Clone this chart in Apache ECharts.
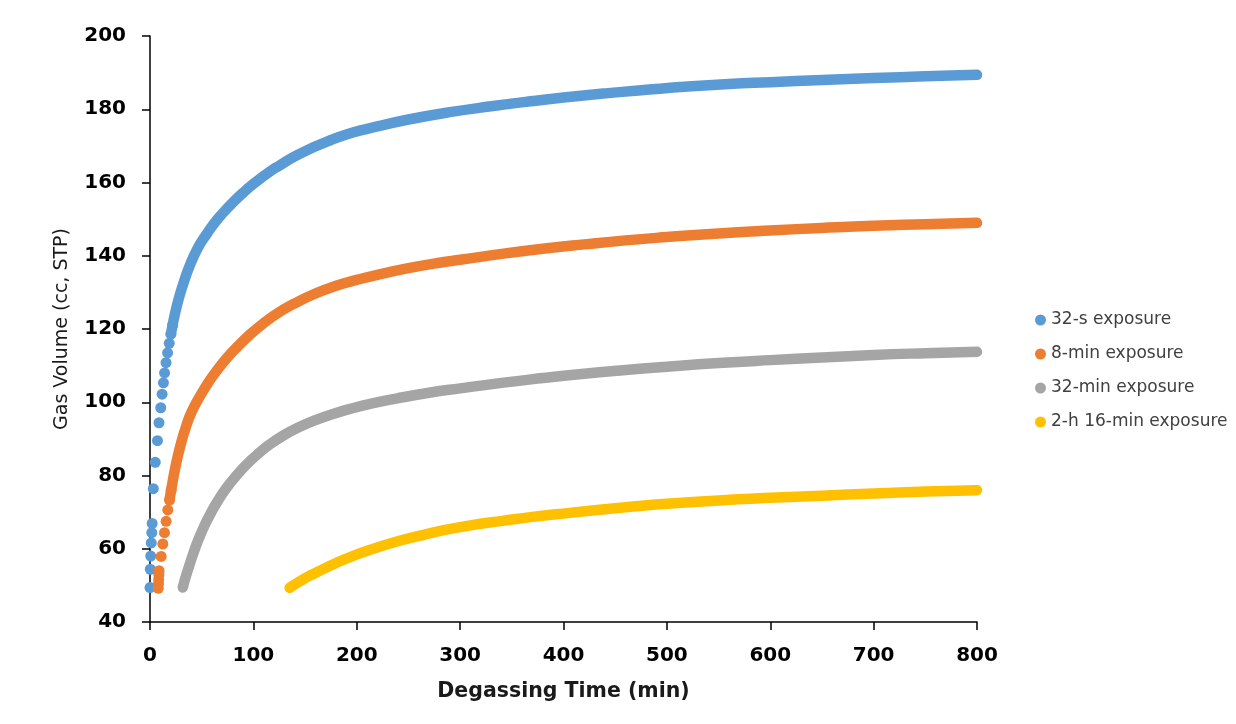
<!DOCTYPE html>
<html>
<head>
<meta charset="utf-8">
<title>Gas Volume vs Degassing Time</title>
<script src="https://cdn.jsdelivr.net/npm/echarts@6/dist/echarts.min.js"></script>
<style>
  html, body { margin: 0; padding: 0; background: #fff; }
  #chart { width: 1236px; height: 724px; }
</style>
</head>
<body>
<div id="chart"></div>
<script>
// legend names
const seriesNames = ["32-s exposure", "8-min exposure", "32-min exposure", "2-h 16-min exposure"];
const seriesColors = ["#5B9BD5", "#ED7D31", "#A5A5A5", "#FFC000"];

// 32-s exposure: separate early dots, then the dense part
const blueDotT = [0, 0.3, 0.7, 1.2, 1.7, 2.1, 3.2, 5.1, 7.2, 8.7, 10.4, 11.7, 13.0, 14.1, 15.5, 17.0, 18.6, 20.2, 21.9];
const blueDotV = [49.4, 54.4, 58.0, 61.6, 64.4, 66.9, 76.4, 83.6, 89.5, 94.4, 98.5, 102.2, 105.3, 108.0, 110.8, 113.5, 116.1, 118.6, 121.0];
const blueT = [20.2, 24, 28, 32, 38, 46, 55, 62, 70, 80, 90, 100, 115, 125, 140, 158, 175, 190, 205, 220, 250, 290, 330, 366, 400, 443, 480, 520, 560, 600, 650, 700, 750, 800];
const blueV = [118.6, 124.0, 128.5, 132.2, 137.0, 142.0, 146.0, 148.8, 151.5, 154.5, 157.2, 159.6, 162.8, 164.6, 167.1, 169.6, 171.6, 173.1, 174.3, 175.3, 177.2, 179.2, 180.8, 182.1, 183.2, 184.4, 185.3, 186.2, 186.9, 187.4, 188.0, 188.5, 189.0, 189.4];

// 8-min exposure
const orangeDotT = [8.0, 8.2, 8.4, 8.6, 8.8, 10.8, 12.4, 14.0, 15.6, 17.2, 18.9, 20.5];
const orangeDotV = [49.2, 50.4, 51.6, 52.8, 54.0, 57.9, 61.3, 64.4, 67.5, 70.6, 73.3, 76.0];
const orangeT = [18.9, 22, 26, 30, 35, 40, 48, 56, 65, 75, 85, 96, 110, 125, 140, 160, 180, 200, 220, 250, 280, 300, 340, 380, 420, 460, 500, 550, 600, 650, 700, 750, 800];
const orangeV = [73.3, 78.5, 84.2, 88.8, 93.5, 97.2, 101.5, 105.2, 108.8, 112.3, 115.3, 118.3, 121.6, 124.6, 127.0, 129.7, 131.8, 133.4, 134.8, 136.6, 138.1, 138.9, 140.5, 141.9, 143.1, 144.2, 145.1, 146.1, 146.9, 147.6, 148.2, 148.6, 149.0];

// 32-min exposure
const grayT = [31.7, 34, 38, 42, 46, 52, 58, 65, 74, 83, 93, 104, 116, 130, 145, 160, 177, 195, 215, 238, 270, 300, 340, 380, 420, 460, 500, 550, 600, 650, 700, 750, 800];
const grayV = [49.4, 51.8, 55.4, 58.8, 61.9, 65.9, 69.3, 72.8, 76.6, 79.8, 82.9, 85.8, 88.5, 91.1, 93.3, 95.1, 96.8, 98.3, 99.7, 101.0, 102.6, 103.8, 105.3, 106.6, 107.8, 108.8, 109.7, 110.7, 111.5, 112.2, 112.9, 113.4, 113.8];

// 2-h 16-min exposure
const yellowT = [135, 145, 155, 165, 180, 196, 215, 238, 260, 283, 310, 341, 370, 406, 440, 470, 500, 550, 600, 650, 700, 750, 800];
const yellowV = [49.3, 51.1, 52.7, 54.1, 56.1, 58.0, 59.9, 61.9, 63.5, 65.0, 66.4, 67.6, 68.7, 69.8, 70.8, 71.6, 72.3, 73.2, 73.9, 74.5, 75.1, 75.6, 76.0];

function zip(t, v) {
    return t.map((x, i) => [x, v[i]]);
}

function dots(name, color, t, v) {
    return {
        name: name,
        type: 'scatter',
        symbol: 'circle',
        symbolSize: 11,
        clip: false,
        itemStyle: { color: color, opacity: 1 },
        emphasis: { disabled: true },
        data: zip(t, v)
    };
}

// dense part of the curve drawn as a thick round-capped band
function band(name, color, t, v) {
    return {
        name: name,
        type: 'line',
        showSymbol: false,
        symbol: 'none',
        smooth: true,
        itemStyle: { color: color, opacity: 1 },
        lineStyle: { color: color, width: 10.5, cap: 'round', join: 'round' },
        emphasis: { disabled: true },
        data: zip(t, v)
    };
}

var chart = echarts.init(document.getElementById('chart'));

const axisText = { fontFamily: 'DejaVu Sans', fontWeight: 'bold', fontSize: 20, color: '#000' };

var option = {
    animation: false,
    backgroundColor: '#fff',
    grid: { left: 150, right: 259, top: 36, bottom: 102 },
    legend: {
        orient: 'vertical',
        left: 1035,
        top: 310,
        padding: 0,
        icon: 'circle',
        itemWidth: 11,
        itemHeight: 11,
        itemGap: 14,
        data: seriesNames,
        textStyle: { fontFamily: 'DejaVu Sans', fontSize: 17, color: '#404040', lineHeight: 20 }
    },
    xAxis: {
        type: 'value',
        min: 0,
        max: 800,
        interval: 100,
        name: 'Degassing Time (min)',
        nameLocation: 'middle',
        nameGap: 59,
        nameTextStyle: { fontFamily: 'DejaVu Sans', fontWeight: 'bold', fontSize: 20.5, color: '#1a1a1a' },
        axisLine: { show: true, lineStyle: { color: '#000', width: 1.5 } },
        axisTick: { show: true, inside: false, length: 8, lineStyle: { color: '#000', width: 1.5 } },
        axisLabel: Object.assign({ margin: 24 }, axisText),
        splitLine: { show: false }
    },
    yAxis: {
        type: 'value',
        min: 40,
        max: 200,
        interval: 20,
        name: 'Gas Volume (cc, STP)',
        nameLocation: 'middle',
        nameGap: 78,
        nameTextStyle: { fontFamily: 'DejaVu Sans', fontSize: 19, color: '#1a1a1a' },
        axisLine: { show: true, lineStyle: { color: '#000', width: 1.5 } },
        axisTick: { show: true, inside: false, length: 8, lineStyle: { color: '#000', width: 1.5 } },
        axisLabel: Object.assign({ margin: 24 }, axisText),
        splitLine: { show: false }
    },
    series: [
        dots(seriesNames[0], seriesColors[0], blueDotT, blueDotV),
        band(seriesNames[0], seriesColors[0], blueT, blueV),
        dots(seriesNames[1], seriesColors[1], orangeDotT, orangeDotV),
        band(seriesNames[1], seriesColors[1], orangeT, orangeV),
        band(seriesNames[2], seriesColors[2], grayT, grayV),
        band(seriesNames[3], seriesColors[3], yellowT, yellowV)
    ]
};

chart.setOption(option);
</script>
</body>
</html>
